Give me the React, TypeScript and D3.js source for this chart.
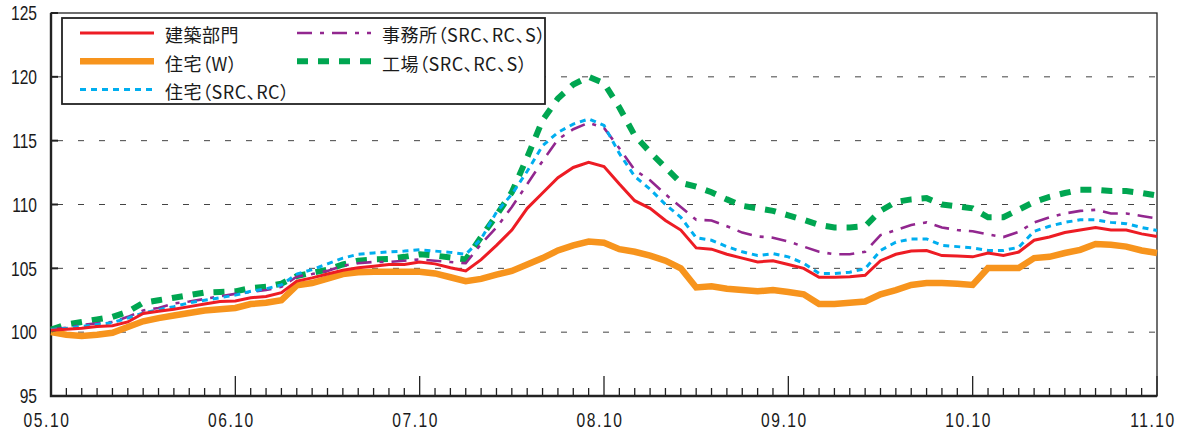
import { useEffect, useRef } from "react";
import * as d3 from "d3";

// 2005.10 - 2011.10, monthly
const monthCount = 73;
const yearLabels = ["05.10", "06.10", "07.10", "08.10", "09.10", "10.10", "11.10"];
const yTicks = [95, 100, 105, 110, 115, 120, 125];

const kenchiku = [
  100.15, 100.23, 100.3, 100.45, 100.5, 100.8, 101.46, 101.64, 101.8, 102.0, 102.2, 102.4,
  102.45, 102.7, 102.8, 103.1, 104.0, 104.25, 104.55, 104.85, 105.04, 105.17, 105.3, 105.3,
  105.5, 105.35, 105.04, 104.8, 105.68, 106.8, 108.0, 109.7, 110.9, 112.1, 112.9, 113.3,
  112.97, 111.6, 110.3, 109.7, 108.75, 108.0, 106.6, 106.5, 106.1, 105.8, 105.5, 105.6,
  105.3, 105.0, 104.3, 104.3, 104.35, 104.45, 105.6, 106.1, 106.35, 106.4, 106.0, 105.96,
  105.9, 106.2, 106.0, 106.28, 107.2, 107.45, 107.8, 108.0, 108.2, 108.0, 108.0, 107.7,
  107.5,
];
const jutakuW = [
  100.0, 99.8, 99.7, 99.8, 99.95, 100.4, 100.85, 101.1, 101.3, 101.5, 101.7, 101.8,
  101.9, 102.2, 102.3, 102.5, 103.67, 103.85, 104.2, 104.55, 104.69, 104.74, 104.74, 104.74,
  104.74, 104.6, 104.3, 104.0, 104.17, 104.5, 104.8, 105.3, 105.8, 106.4, 106.8, 107.1,
  107.0, 106.5, 106.3, 106.0, 105.6, 105.0, 103.5, 103.6, 103.4, 103.3, 103.2, 103.3,
  103.15, 102.97, 102.2, 102.2, 102.3, 102.4, 102.97, 103.3, 103.7, 103.85, 103.85, 103.8,
  103.7, 105.03, 105.03, 105.03, 105.8, 105.9, 106.2, 106.45, 106.9, 106.85, 106.7, 106.4,
  106.2,
];
const jutakuRC = [
  100.2, 100.3, 100.45, 100.6, 100.75, 101.1, 101.5, 101.75, 102.0, 102.3, 102.5, 102.7,
  102.9, 103.2, 103.4, 103.7, 104.55, 104.9, 105.35, 105.8, 106.1, 106.2, 106.3, 106.35,
  106.45, 106.35, 106.25, 106.1, 107.3, 109.4, 110.8, 112.6, 114.6, 115.65, 116.3, 116.7,
  116.2, 114.0, 112.2, 111.2, 110.0, 109.0, 107.4, 107.2, 106.7, 106.3, 106.0, 106.15,
  105.9, 105.4, 104.6, 104.6, 104.7, 104.97, 106.4, 107.05, 107.3, 107.3, 106.8, 106.7,
  106.6, 106.4, 106.4, 106.65, 107.9, 108.3, 108.6, 108.8, 108.8, 108.6, 108.5, 108.2,
  107.96,
];
const jimusho = [
  100.2, 100.35, 100.55, 100.7, 100.8, 101.2, 101.7, 101.9, 102.25, 102.4, 102.6, 102.8,
  103.0, 103.15, 103.3, 103.55, 104.35, 104.55, 104.8, 105.2, 105.4, 105.5, 105.5, 105.6,
  105.7, 105.6, 105.5, 105.4, 106.9, 108.2, 109.8, 111.6, 113.4, 115.1, 115.9, 116.4,
  116.0, 114.4, 112.7, 111.9, 110.8, 109.8, 108.8, 108.75, 108.3, 107.8, 107.5, 107.4,
  107.1, 106.7, 106.3, 106.1, 106.1, 106.3, 107.6, 108.0, 108.4, 108.6, 108.2, 108.0,
  107.9, 107.66, 107.45, 107.85, 108.6, 109.0, 109.3, 109.5, 109.58, 109.3, 109.3, 109.1,
  108.9,
];
const kojo = [
  100.2, 100.6, 100.8, 101.0, 101.2, 101.6, 102.3, 102.5, 102.7, 102.9, 103.1, 103.15,
  103.2, 103.45, 103.55, 103.8, 104.4, 104.65, 104.9, 105.3, 105.6, 105.7, 105.73, 105.9,
  106.1, 106.0, 105.85, 105.7, 107.45, 109.15, 110.96, 113.7, 116.6, 118.3, 119.4, 120.0,
  119.5, 117.6, 115.4, 114.1, 112.9, 111.7, 111.4, 110.96, 110.4, 109.9, 109.7, 109.5,
  109.15, 108.8, 108.4, 108.2, 108.2, 108.3, 109.5, 110.2, 110.4, 110.5, 110.0, 109.85,
  109.7, 109.0, 109.0, 109.6, 110.2, 110.6, 110.9, 111.15, 111.15, 111.05, 111.05, 110.9,
  110.7,
];

type T_Series = {
  name: string;
  values: number[];
  color: string;
  width: number;
  dash: string | null;
};

const series: T_Series[] = [
  { name: "住宅（W）", values: jutakuW, color: "#f7941d", width: 6.5, dash: null },
  { name: "工場（SRC、RC、S）", values: kojo, color: "#00a651", width: 6, dash: "11,10" },
  { name: "事務所（SRC、RC、S）", values: jimusho, color: "#92278f", width: 2.6, dash: "15,8,4,8" },
  { name: "住宅（SRC、RC）", values: jutakuRC, color: "#00aeef", width: 3, dash: "6,5" },
  { name: "建築部門", values: kenchiku, color: "#ed1c24", width: 3, dash: null },
];

// legend order: column, row
const legendItems = [
  { key: "建築部門", col: 0, row: 0 },
  { key: "住宅（W）", col: 0, row: 1 },
  { key: "住宅（SRC、RC）", col: 0, row: 2 },
  { key: "事務所（SRC、RC、S）", col: 1, row: 0 },
  { key: "工場（SRC、RC、S）", col: 1, row: 1 },
];

const W = 1187;
const H = 434;

export default function App() {
  const svgRef = useRef<SVGSVGElement>(null);

  useEffect(() => {
    document.body.style.margin = "0";
    if (!svgRef.current) return;

    const margin = { top: 13, right: 30, bottom: 38, left: 51 };
    const width = W - margin.left - margin.right;
    const height = H - margin.top - margin.bottom;

    const svg = d3.select(svgRef.current);
    svg.selectAll("*").remove();
    svg.attr("width", W).attr("height", H).attr("viewBox", `0 0 ${W} ${H}`);

    const chart = svg
      .append("g")
      .attr("transform", `translate(${margin.left},${margin.top})`);

    const xScale = d3.scaleLinear().domain([0, monthCount - 1]).range([0, width]);
    const yScale = d3.scaleLinear().domain([95, 125]).range([height, 0]);

    const numFont = "'Liberation Sans', Arial, sans-serif";
    const squeeze = 0.78;

    // grid
    chart
      .selectAll(".grid")
      .data(yTicks.filter((t) => t > 95 && t < 125))
      .enter()
      .append("line")
      .attr("x1", 6)
      .attr("x2", width)
      .attr("y1", (d) => yScale(d))
      .attr("y2", (d) => yScale(d))
      .attr("stroke", "#444")
      .attr("stroke-width", 1)
      .attr("stroke-dasharray", "6,15");

    // y ticks (inward) + labels
    chart
      .selectAll(".ytick")
      .data(yTicks)
      .enter()
      .append("line")
      .attr("x1", 0)
      .attr("x2", 7)
      .attr("y1", (d) => yScale(d))
      .attr("y2", (d) => yScale(d))
      .attr("stroke", "#222")
      .attr("stroke-width", 2);

    chart
      .selectAll(".ylabel")
      .data(yTicks)
      .enter()
      .append("text")
      .attr("transform", (d) => `translate(-14,${yScale(d)}) scale(${squeeze},1)`)
      .attr("dy", "0.36em")
      .attr("text-anchor", "end")
      .attr("font-family", numFont)
      .attr("font-size", 20)
      .attr("fill", "#1a1a1a")
      .text((d) => d);

    // x ticks
    const months = d3.range(monthCount);
    chart
      .selectAll(".xtick")
      .data(months)
      .enter()
      .append("line")
      .attr("x1", (d) => xScale(d))
      .attr("x2", (d) => xScale(d))
      .attr("y1", height)
      .attr("y2", (d) => height - (d % 12 === 0 ? 20 : 8))
      .attr("stroke", "#222")
      .attr("stroke-width", 1.3);

    chart
      .selectAll(".xlabel")
      .data(yearLabels)
      .enter()
      .append("text")
      .attr(
        "transform",
        (_d, i) => `translate(${xScale(i * 12) - 4},${height + 31}) scale(${squeeze},1)`,
      )
      .attr("text-anchor", "middle")
      .attr("font-family", numFont)
      .attr("font-size", 20)
      .attr("letter-spacing", 2)
      .attr("fill", "#1a1a1a")
      .text((d) => d);

    // frame
    chart
      .append("rect")
      .attr("x", 0)
      .attr("y", 0)
      .attr("width", width)
      .attr("height", height)
      .attr("fill", "none")
      .attr("stroke", "#222")
      .attr("stroke-width", 1.3);
    chart
      .append("path")
      .attr("d", `M0,0V${height}H${width}`)
      .attr("fill", "none")
      .attr("stroke", "#222")
      .attr("stroke-width", 2.4);

    // lines
    const line = d3
      .line<number>()
      .x((_d, i) => xScale(i))
      .y((d) => yScale(d));

    series.forEach((s) => {
      chart
        .append("path")
        .datum(s.values)
        .attr("fill", "none")
        .attr("stroke", s.color)
        .attr("stroke-width", s.width)
        .attr("stroke-linejoin", "miter")
        .attr("stroke-dasharray", s.dash)
        .attr("d", line);
    });

    // legend
    const legend = svg.append("g").attr("transform", `translate(62,18)`);
    legend
      .append("rect")
      .attr("width", 483)
      .attr("height", 86)
      .attr("fill", "#fff")
      .attr("stroke", "#222")
      .attr("stroke-width", 1.8);

    legendItems.forEach((item) => {
      const s = series.find((d) => d.name === item.key)!;
      const x0 = item.col === 0 ? 18 : 235;
      const y0 = 15 + item.row * 28.3;
      const g = legend.append("g").attr("transform", `translate(${x0},${y0})`);
      g.append("line")
        .attr("x1", 0)
        .attr("x2", 74)
        .attr("y1", 0)
        .attr("y2", 0)
        .attr("stroke", s.color)
        .attr("stroke-width", s.width)
        .attr("stroke-dasharray", s.dash);
      g.append("text")
        .attr("x", 85)
        .attr("y", 3)
        .attr("dy", "0.36em")
        .attr("font-family", "'Noto Sans CJK JP', sans-serif")
        .attr("font-size", 18)
        .attr("letter-spacing", 0.5)
        .style("font-feature-settings", "'palt'")
        .attr("fill", "#1a1a1a")
        .text(item.key);
    });
  }, []);

  return (
    <div style={{ width: W, height: H }}>
      <svg ref={svgRef} style={{ display: "block" }} />
    </div>
  );
}
